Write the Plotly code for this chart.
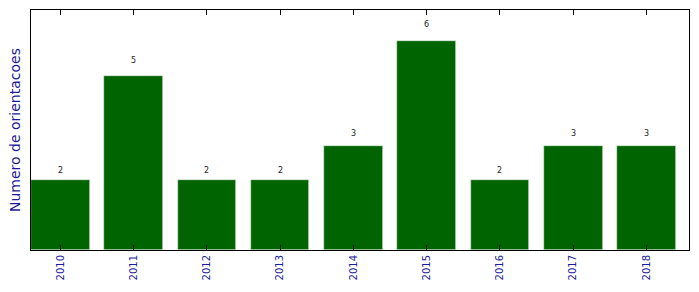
import plotly.graph_objects as go

years = ["2010", "2011", "2012", "2013", "2014", "2015", "2016", "2017", "2018"]
counts = [2, 5, 2, 2, 3, 6, 2, 3, 3]

xs = list(range(len(years)))

fig = go.Figure()
fig.add_trace(go.Bar(
    x=xs, y=counts, width=0.8,
    marker=dict(color="#006400", line=dict(color="#e8f0e8", width=0.6)),
    showlegend=False,
))
for x, v in zip(xs, counts):
    fig.add_annotation(x=x, y=v * 1.05, text=str(v), showarrow=False,
                       yanchor="bottom", yshift=0,
                       font=dict(family="DejaVu Sans", size=8, color="#222222"))

fig.update_layout(
    width=699, height=292,
    margin=dict(l=31, r=10, t=10, b=42),
    plot_bgcolor="white", paper_bgcolor="white",
    bargap=0,
)
fig.update_xaxes(
    range=[-0.4, 8.58], tickmode="array", tickvals=xs, ticktext=years,
    tickangle=-90, tickfont=dict(family="DejaVu Sans", size=10, color="#1a1a9a"),
    ticks="inside", ticklen=5, tickcolor="black",
    showline=True, linecolor="black", linewidth=1, mirror="ticks",
    showgrid=False, zeroline=False,
)
fig.update_yaxes(
    range=[0, 6.9], showticklabels=False, ticks="",
    showline=True, linecolor="black", linewidth=1, mirror=True,
    showgrid=False, zeroline=False,
    title=dict(text="Numero de orientacoes", standoff=6,
               font=dict(family="DejaVu Sans", size=14, color="#1a1a9a")),
)

fig.write_html("out.html")
